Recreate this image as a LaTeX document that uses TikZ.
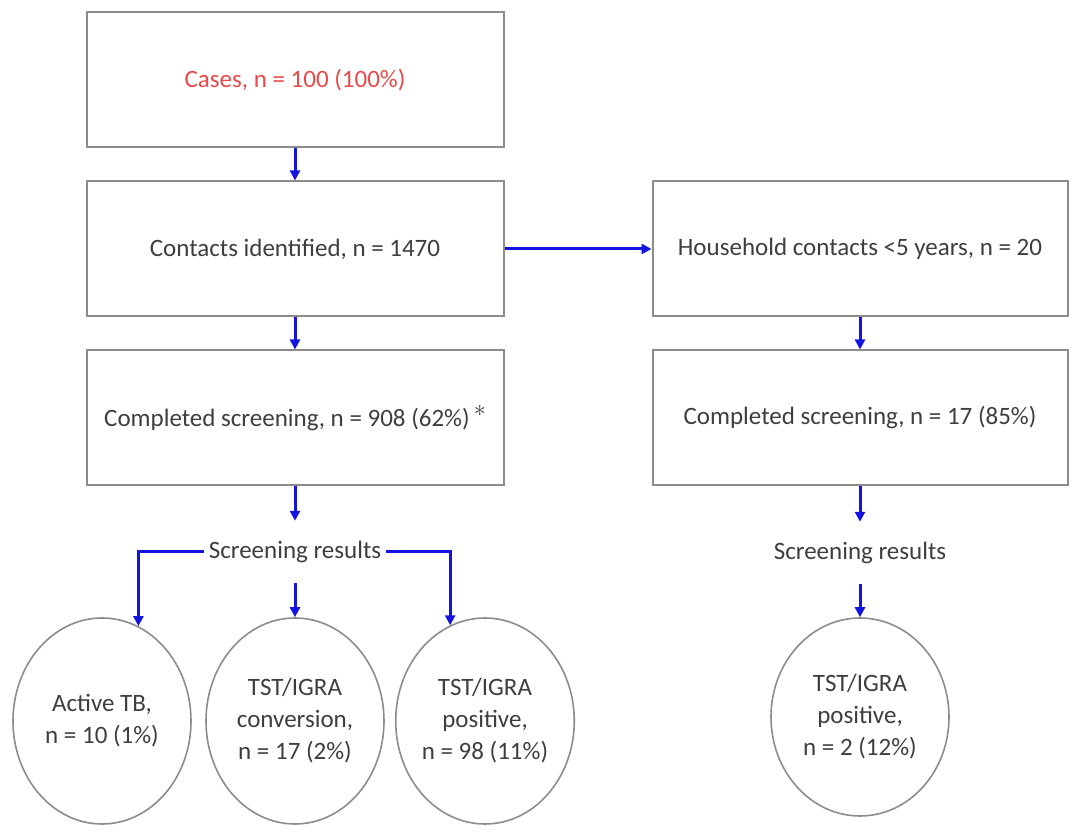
\documentclass[tikz,border=0pt]{standalone}
\usepackage{fontspec}
\setmainfont{Carlito}
\usetikzlibrary{shapes.geometric,arrows.meta}
\definecolor{flowblue}{RGB}{20,20,225}
\definecolor{linegray}{RGB}{140,140,140}
\definecolor{textgray}{RGB}{62,62,62}
\definecolor{casered}{RGB}{232,74,74}

\begin{document}
\begin{tikzpicture}[x=0.5pt,y=-0.5pt,
        box/.style={draw=linegray, line width=1pt, minimum width=208.5pt, minimum height=67.5pt,
            text=textgray, font=\fontsize{12.5}{16}\selectfont},
        result/.style={ellipse, draw=linegray, line width=0.8pt, minimum width=89pt, minimum height=103pt,
            inner sep=0pt, align=center, text=textgray, font=\fontsize{12.5}{16}\selectfont},
        tag/.style={text=textgray, inner xsep=2pt, inner ysep=10pt, font=\fontsize{12.5}{16}\selectfont},
        flow/.style={draw=flowblue, line width=1.5pt, -{Triangle[length=5pt,width=5pt]}}]
        \useasboundingbox (0,0) rectangle (1072,833);

        % Left column boxes
        \node[box] (cases) at (295,80) {\textcolor{casered}{Cases, n = 100 (100\%)}};
        \node[box] (contacts) at (295,249) {Contacts identified, n = 1470};
        \node[box] (screen) at (295,418) {Completed screening, n = 908 (62\%)\,\raisebox{0.9ex}{\large$\ast$}};

        % Right column boxes
        \node[box, minimum width=207.5pt] (house) at (860,249) {Household contacts <5 years, n = 20};
        \node[box, minimum width=207.5pt] (hscreen) at (860,418) {Completed screening, n = 17 (85\%)};

        % Screening results labels
        \node[tag] (results) at (295,552) {Screening results};
        \node[tag] (hresults) at (860,553) {Screening results};

        % Result circles
        \node[result] (active) at (102,721) {Active TB,\\n = 10 (1\%)};
        \node[result] (conv) at (295,721) {TST/IGRA\\conversion,\\n = 17 (2\%)};
        \node[result] (pos) at (485,721) {TST/IGRA\\positive,\\n = 98 (11\%)};
        \node[result, minimum height=99pt] (hpos) at (860,717) {TST/IGRA\\positive,\\n = 2 (12\%)};

        % Arrows
        \draw[flow] (cases) -- (contacts);
        \draw[flow] (contacts) -- (screen);
        \draw[flow] (contacts) -- (house);
        \draw[flow] (house) -- (hscreen);
        \draw[flow] (screen) -- (results);
        \draw[flow] (hscreen) -- (hresults);
        \draw[flow] (results.west) -| (active.69);
        \draw[flow] (results) -- (conv);
        \draw[flow] (results.east) -| (pos.110);
        \draw[flow] (hresults) -- (hpos);
    \end{tikzpicture}
\end{document}
